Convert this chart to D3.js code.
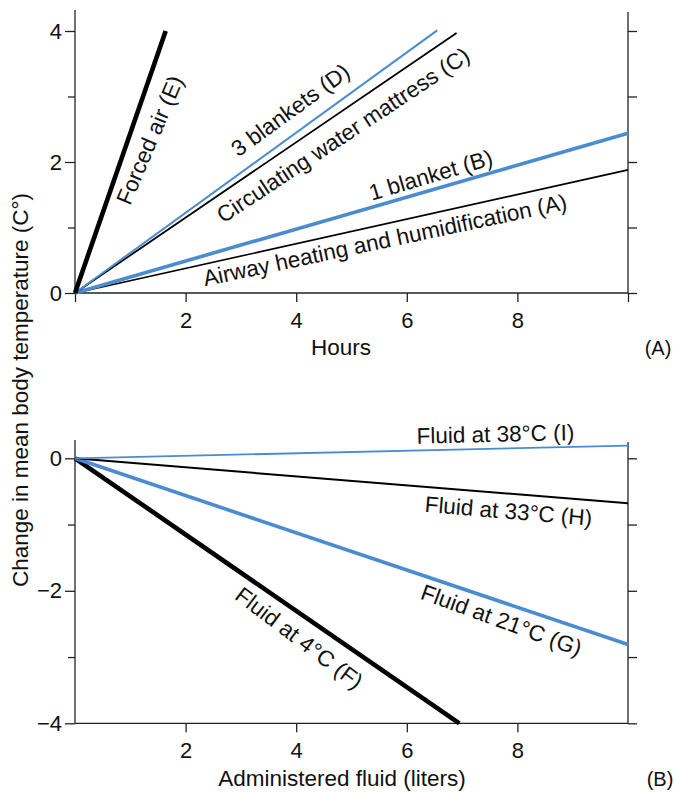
<!DOCTYPE html>
<html>
<head>
<meta charset="utf-8">
<script src="https://cdn.jsdelivr.net/npm/d3@7"></script>
<style>
  html, body { margin: 0; padding: 0; background: #fff; }
  svg { display: block; }
  text { font-family: "Liberation Sans", Arial, Helvetica, sans-serif; fill: #111; }
</style>
</head>
<body>
<svg id="chart" width="674" height="792"></svg>
<script>
// ---------------- DATA ----------------
// Panel A: warming methods (line from origin to end point)
const warmingLabels = ["Airway heating and humidification (A)", "1 blanket (B)", "Circulating water mattress (C)", "3 blankets (D)", "Forced air (E)"];
const warmingEndHours = [10, 10, 6.9, 6.55, 1.64];
const warmingEndChange = [1.88, 2.44, 3.97, 4.01, 4.0];
// Panel B: administered fluid temperature
const fluidLabels = ["Fluid at 4°C (F)", "Fluid at 21°C (G)", "Fluid at 33°C (H)", "Fluid at 38°C (I)"];
const fluidEndLiters = [6.95, 10, 10, 10];
const fluidEndChange = [-4.0, -2.81, -0.68, 0.19];
// Ticks
const hoursTicks = [2, 4, 6, 8];
const fluidTicks = [2, 4, 6, 8];
const topMajorTicks = [0, 2, 4];
const topMinorTicks = [1, 3];
const botMajorTicks = [0, -2, -4];
const botMinorTicks = [-1, -3];
const yTitle = "Change in mean body temperature (C°)";
const xTitleTop = "Hours";
const xTitleBot = "Administered fluid (liters)";

// ---------------- STYLES / LAYOUT ----------------
const BLUE = "#4a8ccf";
const warmingStyle = [
  {color: "#000", width: 1.6},
  {color: BLUE, width: 3.6},
  {color: "#000", width: 1.8},
  {color: BLUE, width: 2.0},
  {color: "#000", width: 4.6}
];
const fluidStyle = [
  {color: "#000", width: 4.6},
  {color: BLUE, width: 3.6},
  {color: "#000", width: 2.0},
  {color: BLUE, width: 1.8}
];
// label anchors (data coords) and rotation
const warmingLabelPos = [
  {x: 5.604, y: 0.809, a: -12},
  {x: 6.432, y: 1.802, a: -16.5},
  {x: 4.847, y: 2.412, a: -33.5},
  {x: 3.892, y: 2.794, a: -36},
  {x: 1.351, y: 2.336, a: -67}
];
const fluidLabelPos = [
  {x: 4.054, y: -2.713, a: 37},
  {x: 7.712, y: -2.440, a: 20},
  {x: 7.838, y: -0.795, a: 4.8},
  {x: 7.604, y: 0.367, a: -1.3}
];

const svg = d3.select("#chart");
const AX = "#222";
const AXW = 1.3;
const LABEL_FS = 22.5;
const TICK_FS = 22;
const fmt = d => d < 0 ? "\u2212" + (-d) : String(d);

const xTop = d3.scaleLinear().domain([0, 10]).range([75, 628]);
const yTop = d3.scaleLinear().domain([0, 4]).range([293, 31]);
const xBot = d3.scaleLinear().domain([0, 10]).range([75, 628]);
const yBot = d3.scaleLinear().domain([-4, 0]).range([723.3, 458.3]);

function styleAxis(g) {
  g.select(".domain").remove();
  g.selectAll(".tick line").attr("stroke", AX).attr("stroke-width", AXW);
  g.selectAll(".tick text").attr("font-size", TICK_FS).attr("fill", "#111")
    .attr("font-family", '"Liberation Sans", Arial, sans-serif');
}

function panel(x, y, opts) {
  const g = svg.append("g");
  const [x0, x1] = x.range();
  const y0 = y(y.domain()[0]);
  g.append("line").attr("x1", x0).attr("x2", x0).attr("y1", opts.leftTop).attr("y2", opts.leftBottom)
    .attr("stroke", AX).attr("stroke-width", AXW);
  g.append("line").attr("x1", x1).attr("x2", x1).attr("y1", opts.rightTop).attr("y2", opts.rightBottom)
    .attr("stroke", AX).attr("stroke-width", AXW);
  g.append("line").attr("x1", x0).attr("x2", x1).attr("y1", y0).attr("y2", y0)
    .attr("stroke", AX).attr("stroke-width", AXW);

  g.append("g").attr("transform", `translate(${x0},0)`)
    .call(d3.axisLeft(y).tickValues(opts.major).tickSize(10).tickPadding(3).tickFormat(fmt))
    .call(styleAxis);
  g.append("g").attr("transform", `translate(${x0},0)`)
    .call(d3.axisLeft(y).tickValues(opts.minor).tickSize(7).tickFormat(""))
    .call(styleAxis);
  g.append("g").attr("transform", `translate(${x1},0)`)
    .call(d3.axisRight(y).tickValues(opts.major.concat(opts.minor)).tickSize(9).tickFormat(""))
    .call(styleAxis);
  g.append("g").attr("transform", `translate(0,${y0})`)
    .call(d3.axisBottom(x).tickValues(opts.xticks).tickSize(9).tickPadding(10).tickFormat(d => (d === 0 || d === 10) ? "" : fmt(d)))
    .call(styleAxis);
  return g;
}

// ---- Panel A
const gA = panel(xTop, yTop, {leftTop: 10, leftBottom: 293, rightTop: 12, rightBottom: 293,
  major: topMajorTicks, minor: topMinorTicks, xticks: [0].concat(hoursTicks, [10])});

const line = (x, y) => d3.line().x(d => x(d[0])).y(d => y(d[1]));

warmingLabels.forEach((lab, i) => {
  gA.append("path")
    .attr("d", line(xTop, yTop)([[0, 0], [warmingEndHours[i], warmingEndChange[i]]]))
    .attr("fill", "none").attr("stroke", warmingStyle[i].color)
    .attr("stroke-width", warmingStyle[i].width);
});
warmingLabels.forEach((lab, i) => {
  const p = warmingLabelPos[i];
  gA.append("text")
    .attr("transform", `translate(${xTop(p.x)},${yTop(p.y)}) rotate(${p.a})`)
    .attr("text-anchor", "middle").attr("dy", "0.35em")
    .attr("font-size", LABEL_FS).text(lab);
});

gA.append("text").attr("x", 341).attr("y", 355).attr("text-anchor", "middle").attr("font-size", LABEL_FS).text(xTitleTop);
gA.append("text").attr("x", 658).attr("y", 355).attr("text-anchor", "middle").attr("font-size", 20).text("(A)");

// ---- Panel B
const gB = panel(xBot, yBot, {leftTop: 440, leftBottom: 723.3, rightTop: 442, rightBottom: 723.3,
  major: botMajorTicks, minor: botMinorTicks, xticks: fluidTicks});

fluidLabels.forEach((lab, i) => {
  gB.append("path")
    .attr("d", line(xBot, yBot)([[0, 0], [fluidEndLiters[i], fluidEndChange[i]]]))
    .attr("fill", "none").attr("stroke", fluidStyle[i].color)
    .attr("stroke-width", fluidStyle[i].width);
});
fluidLabels.forEach((lab, i) => {
  const p = fluidLabelPos[i];
  gB.append("text")
    .attr("transform", `translate(${xBot(p.x)},${yBot(p.y)}) rotate(${p.a})`)
    .attr("text-anchor", "middle").attr("dy", "0.35em")
    .attr("font-size", LABEL_FS).text(lab);
});

gB.append("text").attr("x", 342).attr("y", 786).attr("text-anchor", "middle").attr("font-size", LABEL_FS).text(xTitleBot);
gB.append("text").attr("x", 660).attr("y", 786).attr("text-anchor", "middle").attr("font-size", 20).text("(B)");

// ---- shared y title
svg.append("text")
  .attr("transform", "translate(28,390) rotate(-90)")
  .attr("text-anchor", "middle").attr("font-size", LABEL_FS).text(yTitle);
</script>
</body>
</html>
